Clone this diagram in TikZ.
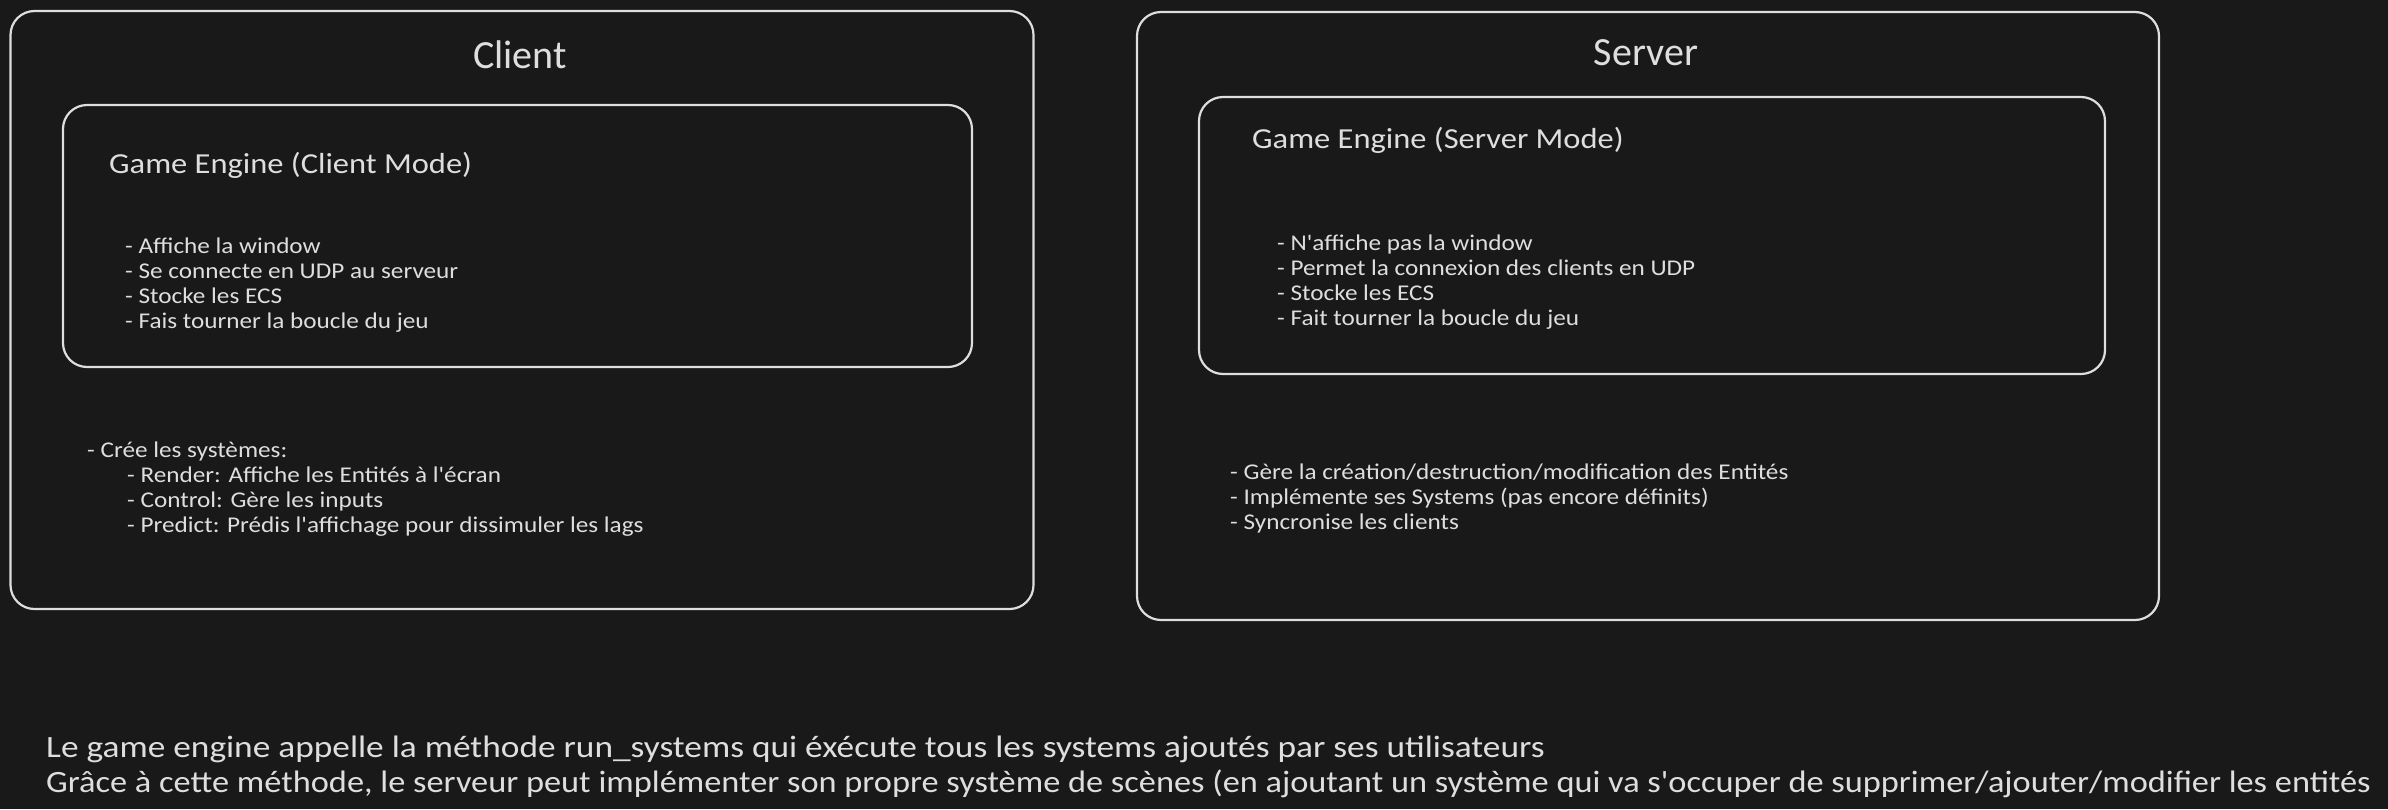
\documentclass[tikz,border=0pt]{standalone}
\usepackage{fontspec}
\setmainfont{Carlito}
\newfontfamily\widefont{Carlito}[FakeStretch=1.12]
\newfontfamily\widefontA{Carlito}[FakeStretch=1.14]
\newfontfamily\widefontB{Carlito}[FakeStretch=1.108]
\definecolor{bgc}{HTML}{191919}
\definecolor{fgc}{HTML}{DEDEDE}
\begin{document}
\begin{tikzpicture}[x=1pt,y=-1pt,
  frame/.style={draw=fgc, line width=2.2pt, rounded corners=24pt, inner sep=0pt},
  txt/.style={text=fgc, inner sep=0pt, anchor=west},
  ttl/.style={text=fgc, inner sep=0pt, font=\fontsize{40}{44}\selectfont},
  sub/.style={txt, text height=19pt, text depth=2pt, font=\widefont\fontsize{29}{32}\selectfont},
  lst/.style={txt, text height=17pt, text depth=2pt, font=\widefont\fontsize{22.5}{25}\selectfont},
  big/.style={txt, text height=21pt, text depth=2pt, font=\fontsize{31}{34}\selectfont}]
\fill[bgc] (0,0) rectangle (2388,809);
\useasboundingbox (0,0) rectangle (2388,809);
% frames
\node[frame, minimum width=1023pt, minimum height=598pt] (client) at (522,310) {};
\node[frame, minimum width=909pt, minimum height=262pt] (cengine) at (517.5,236) {};
\node[frame, minimum width=1022pt, minimum height=608pt] (server) at (1648,316) {};
\node[frame, minimum width=906pt, minimum height=277pt] (sengine) at (1652,235.5) {};
% titles
\node[ttl] (ctitle) at (520,55) {Client};
\node[ttl] (stitle) at (1646,53) {Server};
\node[sub] (cge) at (109,165) {Game Engine (Client Mode)};
\node[sub] (sge) at (1252,140) {Game Engine (Server Mode)};
% client engine list
\node[lst] (c1) at (125,246) {- Affiche la window};
\node[lst] (c2) at (125,271) {- Se connecte en UDP au serveur};
\node[lst] (c3) at (125,296) {- Stocke les ECS};
\node[lst] (c4) at (125,321) {- Fais tourner la boucle du jeu};
% server engine list
\node[lst] (s1) at (1277,243) {- N'affiche pas la window};
\node[lst] (s2) at (1277,268) {- Permet la connexion des clients en UDP};
\node[lst] (s3) at (1277,293) {- Stocke les ECS};
\node[lst] (s4) at (1277,318) {- Fait tourner la boucle du jeu};
% client systems
\node[lst] (cs0) at (87,450) {- Crée les systèmes:};
\node[lst] (cs1) at (127,475) {- Render: Affiche les Entités à l'écran};
\node[lst] (cs2) at (127,500) {- Control: Gère les inputs};
\node[lst] (cs3) at (127,525) {- Predict: Prédis l'affichage pour dissimuler les lags};
% server systems
\node[lst] (ss1) at (1230,472) {- Gère la création/destruction/modification des Entités};
\node[lst] (ss2) at (1230,497) {- Implémente ses Systems (pas encore définits)};
\node[lst] (ss3) at (1230,522) {- Syncronise les clients};
% bottom notes
\node[big, font=\widefontA\fontsize{31}{34}\selectfont] (n1) at (46,748) {Le game engine appelle la méthode run\_systems qui éxécute tous les systems ajoutés par ses utilisateurs};
\node[big, font=\widefontB\fontsize{31}{34}\selectfont] (n2) at (46,783) {Grâce à cette méthode, le serveur peut implémenter son propre système de scènes (en ajoutant un système qui va s'occuper de supprimer/ajouter/modifier les entités};
\end{tikzpicture}
\end{document}
